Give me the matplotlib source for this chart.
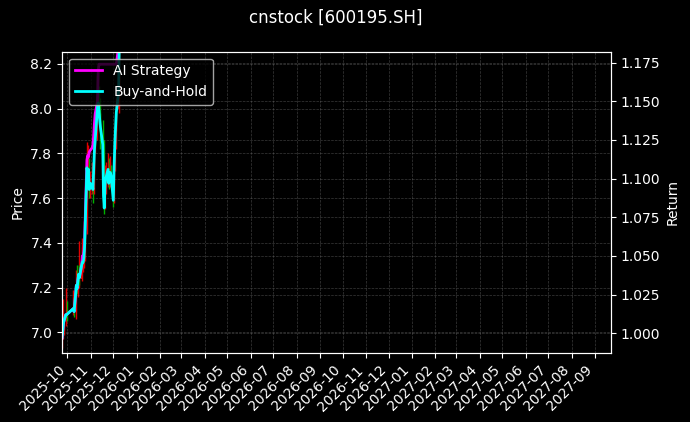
import numpy as np
import pandas as pd
import matplotlib
matplotlib.use("Agg")
import matplotlib.pyplot as plt
import matplotlib.dates as mdates

dates = pd.to_datetime([
    "2025-09-24", "2025-09-25", "2025-09-26", "2025-09-29", "2025-09-30",
    "2025-10-09", "2025-10-10", "2025-10-13", "2025-10-14", "2025-10-15",
    "2025-10-16", "2025-10-17", "2025-10-20", "2025-10-21", "2025-10-22",
    "2025-10-23", "2025-10-24", "2025-10-27", "2025-10-28", "2025-10-29",
    "2025-10-30", "2025-10-31", "2025-11-03", "2025-11-04", "2025-11-05",
    "2025-11-06", "2025-11-07", "2025-11-10", "2025-11-11", "2025-11-12",
    "2025-11-13", "2025-11-14", "2025-11-17", "2025-11-18", "2025-11-19",
    "2025-11-20", "2025-11-21", "2025-11-24", "2025-11-25", "2025-11-26",
    "2025-11-27", "2025-11-28", "2025-12-01", "2025-12-02", "2025-12-03",
    "2025-12-04", "2025-12-05", "2025-12-08", "2025-12-09",
])

# candles
opens = [6.95, 6.98, 7.01, 7.04, 7.09, 7.10, 7.12, 7.08, 7.22, 7.19,
         7.22, 7.26, 7.24, 7.30, 7.31, 7.30, 7.34, 7.45, 7.74, 7.70,
         7.73, 7.63, 7.66, 7.66, 7.64, 7.73, 7.82, 7.88, 8.00, 8.05,
         7.99, 7.95, 7.92, 7.84, 7.62, 7.57, 7.66, 7.68, 7.74, 7.67,
         7.71, 7.72, 7.69, 7.60, 7.74, 7.84, 7.92, 8.00, 8.10]
highs = [7.02, 7.15, 7.08, 7.20, 7.14, 7.19, 7.15, 7.28, 7.30, 7.25,
         7.41, 7.30, 7.38, 7.42, 7.35, 7.50, 7.45, 7.85, 7.80, 7.84,
         7.78, 7.72, 7.76, 7.70, 7.80, 7.90, 7.95, 8.15, 8.20, 8.10,
         8.05, 7.98, 7.95, 7.86, 7.68, 7.75, 7.76, 7.80, 7.78, 7.79,
         7.76, 7.75, 7.72, 7.80, 7.90, 7.98, 8.05, 8.15, 8.40]
lows = [6.93, 6.97, 6.99, 7.03, 7.05, 7.08, 7.07, 7.06, 7.17, 7.16,
        7.20, 7.21, 7.23, 7.28, 7.27, 7.29, 7.32, 7.44, 7.65, 7.68,
        7.60, 7.60, 7.62, 7.58, 7.62, 7.71, 7.80, 7.86, 7.96, 7.93,
        7.90, 7.82, 7.78, 7.58, 7.53, 7.55, 7.62, 7.65, 7.64, 7.65,
        7.66, 7.66, 7.56, 7.58, 7.72, 7.82, 7.90, 7.98, 8.08]
closes = [6.975, 7.01, 7.04, 7.08, 7.08, 7.11, 7.09, 7.21, 7.20, 7.23,
          7.26, 7.24, 7.30, 7.31, 7.315, 7.33, 7.39, 7.74, 7.71, 7.73,
          7.64, 7.67, 7.66, 7.64, 7.73, 7.82, 7.86, 8.00, 8.03, 7.99,
          7.95, 7.92, 7.84, 7.61, 7.56, 7.66, 7.69, 7.73, 7.67, 7.71,
          7.715, 7.70, 7.59, 7.74, 7.84, 7.92, 7.99, 8.07, 8.31]

# returns
strategy = [0.997, 1.002, 1.007, 1.012, 1.012, 1.016, 1.014, 1.031, 1.029, 1.034,
            1.038, 1.036, 1.044, 1.050, 1.050, 1.053, 1.061, 1.112, 1.115, 1.114,
            1.117, 1.118, 1.120, 1.122, 1.128, 1.136, 1.142, 1.150, 1.170, 1.174,
            1.174, 1.174, 1.174, 1.174, 1.174, 1.174, 1.174, 1.174, 1.174, 1.174,
            1.174, 1.174, 1.174, 1.174, 1.174, 1.174, 1.174, 1.185, 1.215]
buy_hold = [0.997, 1.002, 1.007, 1.012, 1.012, 1.016, 1.014, 1.031, 1.029, 1.034,
            1.038, 1.036, 1.044, 1.046, 1.046, 1.049, 1.057, 1.107, 1.104, 1.106,
            1.093, 1.097, 1.096, 1.093, 1.106, 1.119, 1.125, 1.146, 1.149, 1.144,
            1.138, 1.133, 1.122, 1.089, 1.081, 1.096, 1.100, 1.106, 1.097, 1.103,
            1.104, 1.102, 1.086, 1.107, 1.122, 1.133, 1.143, 1.156, 1.190]

plt.style.use("dark_background")
fig = plt.figure(figsize=(6.9, 4.22), dpi=100)
ax = fig.add_axes([0.0899, 0.163, 0.7956, 0.7145])

o = np.array(opens)
c = np.array(closes)
up = c >= o
cols = np.where(up, "#e00000", "#00b000")
ax.vlines(dates, lows, highs, colors=cols, linewidth=1)
ax.bar(dates, c - o, bottom=o, width=0.6, color=cols)

ax.set_ylabel("Price")
ax.set_ylim(6.907, 8.255)
ax.grid(True, linestyle="--", linewidth=0.5, color="gray", alpha=0.45)

ax2 = ax.twinx()
ax2.plot(dates, strategy, color="#ff00ff", linewidth=2, label="AI Strategy")
ax2.plot(dates, buy_hold, color="#00ffff", linewidth=2, label="Buy-and-Hold")
ax2.set_ylabel("Return")
ax2.set_ylim(0.9871, 1.1821)
ax2.grid(True, linestyle="--", linewidth=0.5, color="gray", alpha=0.45)
ax2.legend(loc="upper left")

ax.set_xlim(pd.Timestamp("2025-09-24"), pd.Timestamp("2027-09-22"))
ax.xaxis.set_major_locator(mdates.MonthLocator())
ax.xaxis.set_major_formatter(mdates.DateFormatter("%Y-%m"))
plt.setp(ax.get_xticklabels(), rotation=45, ha="right")

fig.text(0.487, 0.957, "cnstock [600195.SH]", ha="center", va="center", fontsize=12)

fig.savefig("out.png", dpi=100)
